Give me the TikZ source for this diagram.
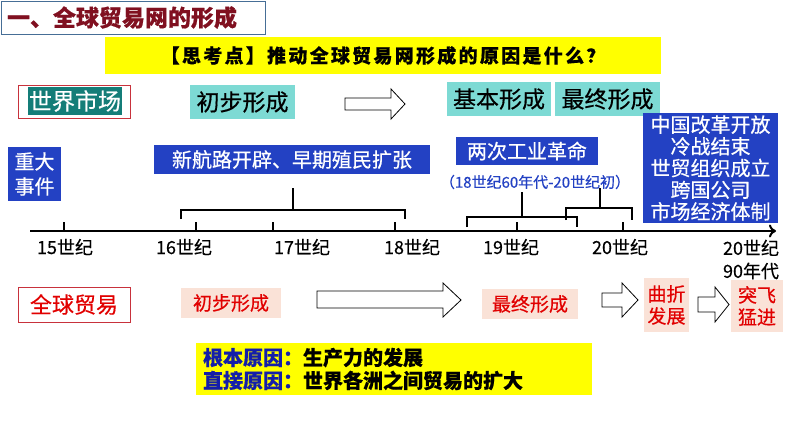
\documentclass[tikz,border=0pt]{standalone}
\usepackage{fontspec}
\setmainfont{Noto Sans CJK SC}[FakeBold=0.5]
\usetikzlibrary{arrows.meta}

\definecolor{biaotihong}{RGB}{128,16,32}
\definecolor{biaotikuang}{RGB}{70,110,150}
\definecolor{huang}{RGB}{255,255,0}
\definecolor{shenqing}{RGB}{20,125,120}
\definecolor{qianqing}{RGB}{125,218,212}
\definecolor{lan}{RGB}{35,65,195}
\definecolor{fen}{RGB}{250,226,215}
\definecolor{hong}{RGB}{225,0,0}
\definecolor{kuanghong}{RGB}{200,50,60}
\definecolor{shenlan}{RGB}{20,30,170}

\tikzset{
  lankuang/.style={fill=lan, text=white, inner sep=0pt, align=center},
  qingkuang/.style={fill=qianqing, inner sep=0pt, minimum height=34pt, font=\fontsize{23}{26}\selectfont},
  fenkuang/.style={fill=fen, text=hong, inner sep=0pt, align=center},
  kongjiantou/.style={draw=black, fill=white, line width=0.8pt},
  kuohao/.style={line width=1.8pt},
  shiji/.style={inner sep=0pt, font=\fontsize{18}{23}\selectfont, align=center},
}

\begin{document}
\begin{tikzpicture}[x=1pt,y=-1pt]
  \useasboundingbox (0,0) rectangle (794,447);

  % 标题
  \node[draw=biaotikuang, line width=1pt, anchor=north west, minimum height=33pt,
        text width=252pt, inner xsep=6pt, inner ysep=0pt, text=biaotihong,
        font=\fontsize{23}{26}\selectfont\bfseries] (biaoti) at (0.5,0.5) {一、全球贸易网的形成};
  \node[fill=huang, minimum width=556pt, minimum height=37pt, inner sep=0pt,
        font=\fontsize{19}{21}\selectfont\bfseries\addfontfeatures{LetterSpace=12}]
        (sikao) at (383,55.5) {【思考点】推动全球贸易网形成的原因是什么？};

  % 世界市场一行
  \node[draw=kuanghong, line width=0.8pt, minimum width=112pt, minimum height=33pt] (shijiewai) at (74,101.5) {};
  \node[fill=shenqing, text=white, minimum width=94pt, minimum height=28pt, inner sep=0pt,
        font=\fontsize{23}{26}\selectfont] (shijie) at (75,101) {世界市场};
  \node[qingkuang, minimum width=105pt] (chubu) at (242.5,102) {初步形成};
  \draw[kongjiantou] (345,98) -- (391,98) -- (391,89) -- (405,104) -- (391,119) -- (391,110) -- (345,110) -- cycle;
  \node[qingkuang, minimum width=104pt] (jiben) at (499,99) {基本形成};
  \node[qingkuang, minimum width=105pt] (zuizhong) at (607.5,99) {最终形成};

  % 重大事件
  \node[lankuang, minimum width=53pt, minimum height=54pt, font=\fontsize{20}{25}\selectfont] (zhongda) at (34.5,174) {重大\\事件};
  \node[lankuang, minimum width=276pt, minimum height=29pt, font=\fontsize{20}{22}\selectfont] (hanglu) at (292,159.5) {新航路开辟、早期殖民扩张};
  \node[lankuang, minimum width=142pt, minimum height=28pt, font=\fontsize{20}{22}\selectfont] (gongye) at (527,151) {两次工业革命};
  \node[text=lan, inner sep=0pt, font=\fontsize{15}{17}\selectfont] (shijian) at (535,182) {（18世纪60年代-20世纪初）};
  \node[lankuang, minimum width=135pt, minimum height=110pt, font=\fontsize{20}{21.7}\selectfont] (gaige) at (710.5,168)
    {中国改革开放\\冷战结束\\世贸组织成立\\跨国公司\\市场经济体制};

  % 括号
  \draw[kuohao] (181,219) -- (181,210) -- (405,210) -- (405,219);
  \draw[kuohao] (293,210) -- (293,188);
  \draw[kuohao] (467,227) -- (467,217) -- (577,217) -- (577,227);
  \draw[kuohao] (522,217) -- (522,192);
  \draw[kuohao] (566,220) -- (566,208) -- (632,208) -- (632,220);
  \draw[kuohao] (600,208) -- (600,188);

  % 时间轴
  \draw[line width=2.2pt, -{To[length=7pt, width=13pt, line width=2pt]}] (30,231) -- (776,231);
  \foreach \x in {64,196,273,395,517,623}
    \draw[line width=2pt] (\x,231) -- (\x,222);
  \node[shiji] (s15) at (65,247) {15世纪};
  \node[shiji] (s16) at (184,247) {16世纪};
  \node[shiji] (s17) at (302,247) {17世纪};
  \node[shiji] (s18) at (412,247) {18世纪};
  \node[shiji] (s19) at (511,247) {19世纪};
  \node[shiji] (s20) at (620,247) {20世纪};
  \node[shiji] (s90) at (751,259.5) {20世纪\\90年代};

  % 全球贸易一行
  \node[draw=kuanghong, line width=0.8pt, text=hong, minimum width=112pt, minimum height=35pt, inner sep=0pt,
        font=\fontsize{22}{24}\selectfont] (maoyi) at (74,304.5) {全球贸易};
  \node[fenkuang, minimum width=100pt, minimum height=30pt, font=\fontsize{19}{21}\selectfont] (chubu2) at (231,303) {初步形成};
  \draw[kongjiantou] (317,291) -- (443,291) -- (443,283) -- (461,300) -- (443,317) -- (443,308) -- (317,308) -- cycle;
  \node[fenkuang, minimum width=96pt, minimum height=30pt, font=\fontsize{19}{21}\selectfont] (zuizhong2) at (530,304) {最终形成};
  \draw[kongjiantou] (602,293) -- (622,293) -- (622,283) -- (638,300) -- (622,317) -- (622,307) -- (602,307) -- cycle;
  \node[fenkuang, minimum width=45pt, minimum height=54pt, font=\fontsize{19}{22}\selectfont] (quzhe) at (666.5,305) {曲折\\发展};
  \draw[kongjiantou] (698,297) -- (715,297) -- (715,287) -- (729,304.5) -- (715,322) -- (715,312) -- (698,312) -- cycle;
  \node[fenkuang, minimum width=52pt, minimum height=52pt, font=\fontsize{19}{22}\selectfont] (tufei) at (757,306) {突飞\\猛进};

  % 原因
  \node[fill=huang, minimum width=396pt, minimum height=52pt, text width=382pt, inner xsep=7pt, inner ysep=0pt,
        align=left, font=\fontsize{20}{23}\selectfont\bfseries] (yuanyin) at (394,369)
    {\textcolor{shenlan}{根本原因：}生产力的发展\\\textcolor{shenlan}{直接原因：}世界各洲之间贸易的扩大};
\end{tikzpicture}
\end{document}
